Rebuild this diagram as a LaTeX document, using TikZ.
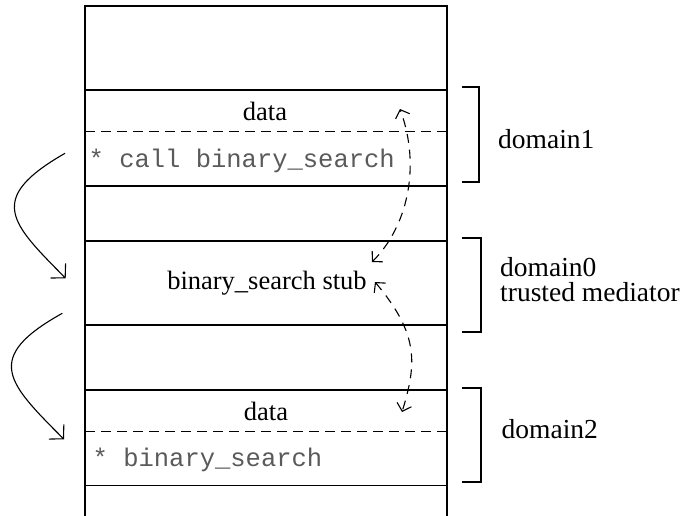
\documentclass[tikz,border=0pt]{standalone}
\usepackage{fontspec}
\setmainfont{Liberation Serif}
\setmonofont{Liberation Mono}
\usetikzlibrary{arrows.meta}
\definecolor{codegray}{HTML}{5A5A5A}
\tikzset{
  frame/.style={line width=1.1pt, black},
  sep/.style={line width=1.1pt, black, dash pattern=on 10pt off 6pt},
  brk/.style={line width=1.1pt, black},
  flow/.style={line width=1.1pt, -{Straight Barb[length=10pt,width=21pt,line width=1.1pt]}},
  xchg/.style={line width=1.1pt, dash pattern=on 9pt off 7pt,
    {Straight Barb[length=7pt,width=15pt,line width=1.1pt]}-{Straight Barb[length=7pt,width=15pt,line width=1.1pt]}},
  lbl/.style={inner sep=0pt, font=\fontsize{27.5}{25}\selectfont, align=left},
  inner/.style={inner sep=0pt, font=\fontsize{26.5}{30}\selectfont},
  code/.style={inner sep=0pt, font=\fontsize{25.5}{30}\ttfamily, text=codegray}
}
\begin{document}
\begin{tikzpicture}[x=1pt,y=1pt]
\useasboundingbox (0,0) rectangle (691,-515);
% outer frame
\draw[frame] (85,-516) -- (85,-6) -- (447,-6) -- (447,-516);
% horizontal separators
\draw[frame] (85,-90) -- (447,-90);
\draw[sep] (85,-131.5) -- (447,-131.5);
\draw[frame] (85,-186) -- (447,-186);
\draw[frame] (85,-241) -- (447,-241);
\draw[frame] (85,-325) -- (447,-325);
\draw[frame] (85,-390) -- (447,-390);
\draw[sep] (85,-431.5) -- (447,-431.5);
\draw[frame] (85,-485.5) -- (447,-485.5);
% brackets
\draw[brk] (462,-87) -- (479,-87) -- (479,-182) -- (462,-182);
\draw[brk] (462,-238) -- (481,-238) -- (481,-332) -- (462,-332);
\draw[brk] (462,-388) -- (481,-388) -- (481,-482) -- (462,-482);
% texts
\node[inner, anchor=base] (data1) at (265,-120) {data};
\node[code, anchor=base west] (call) at (88.5,-167) {* call binary\_search};
\node[inner, anchor=base] (stub) at (267,-289.5) {binary\_search stub};
\node[inner, anchor=base] (data2) at (266,-420.5) {data};
\node[code, anchor=base west] (bs) at (92.5,-466) {* binary\_search};
\node[lbl, anchor=base west] (d1) at (498,-148.3) {domain1};
\node[lbl, anchor=base west] (d0) at (500,-301.7) {domain0\\trusted mediator};
\node[lbl, anchor=base west] (d2) at (501.5,-438.3) {domain2};
% left flow arrows
\coordinate (f1s) at (65,-153.3);
\coordinate (f1e) at (65.7,-278.3);
\coordinate (f2s) at (62.3,-313.3);
\coordinate (f2e) at (64,-439.3);
\draw[flow] (f1s) .. controls (-14.5,-198.9) and (10.8,-222.8) .. (f1e);
\draw[flow] (f2s) .. controls (-18,-358) and (8,-383) .. (f2e);
% dashed exchange arrows
\coordinate (a1) at (372,-262);
\coordinate (a2) at (400,-109);
\coordinate (b1) at (375,-282);
\coordinate (b2) at (402,-412);
\draw[xchg] (a1) .. controls (406.3,-227.7) and (421.7,-168.6) .. (a2);
\draw[xchg] (b1) .. controls (418.6,-333.9) and (417.1,-362.7) .. (b2);
\end{tikzpicture}
\end{document}
